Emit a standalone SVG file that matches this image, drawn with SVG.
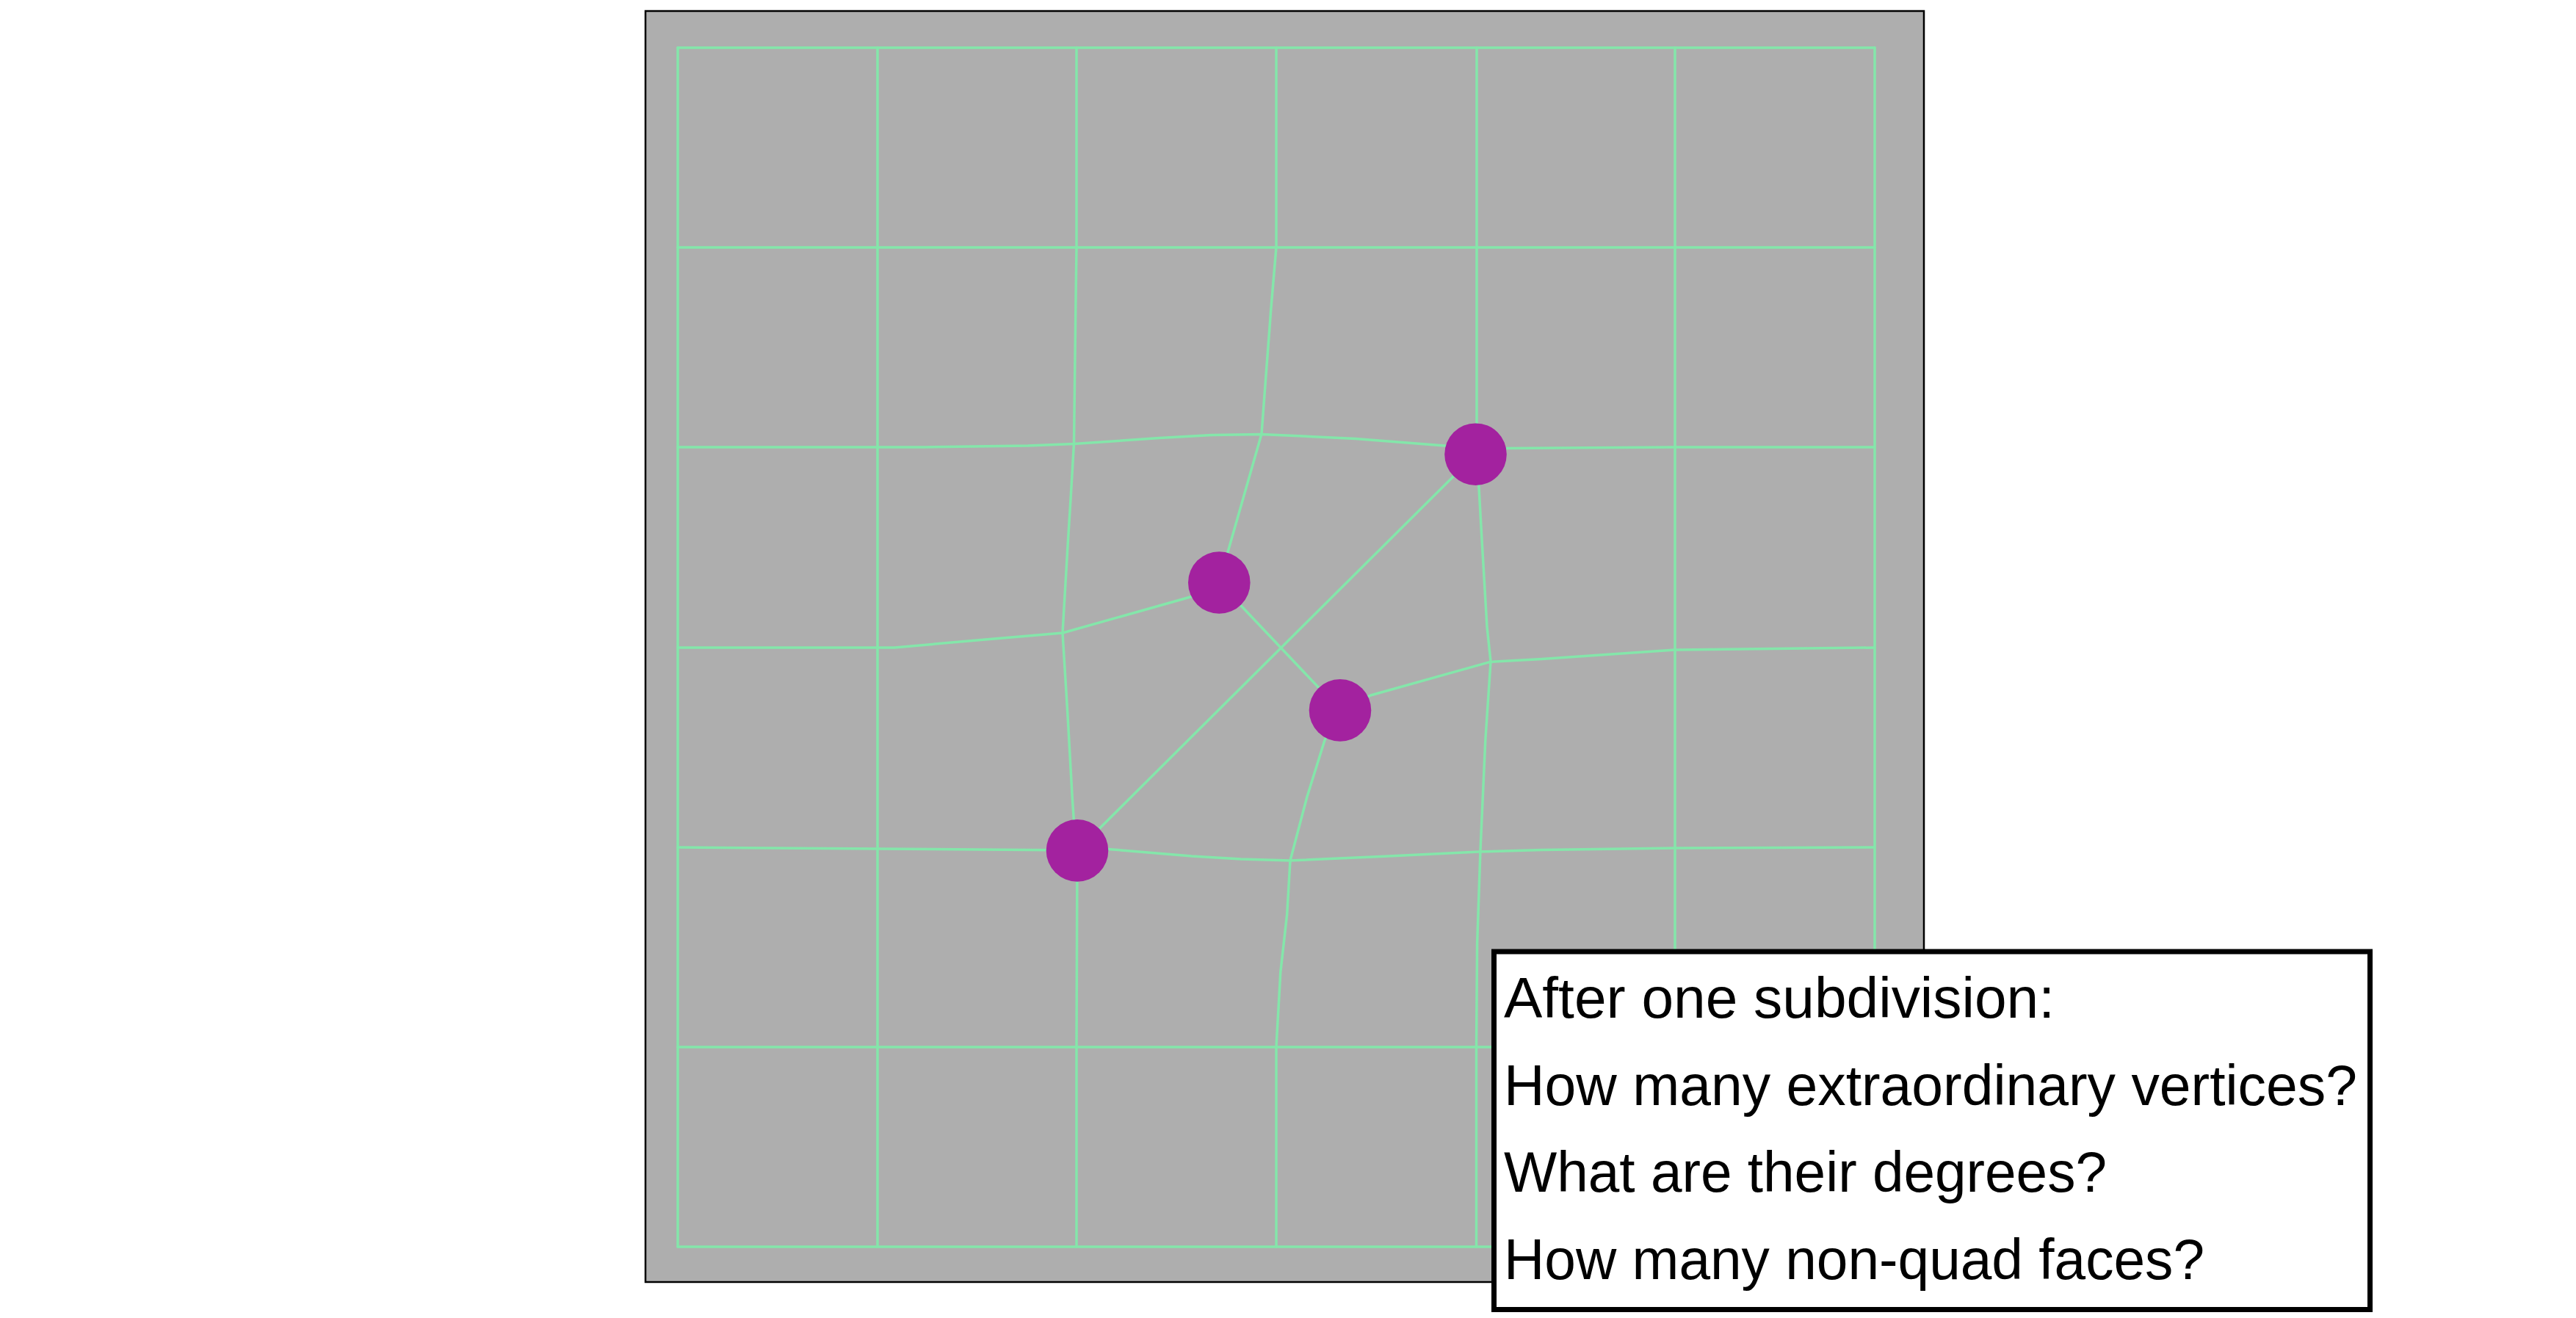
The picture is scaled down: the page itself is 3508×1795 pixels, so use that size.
<svg xmlns="http://www.w3.org/2000/svg" width="3508" height="1795" viewBox="0 0 3508 1795">
<style>
.bg{fill:#ffffff}
.panel{fill:#aeaeae;stroke:#000000;stroke-width:2.5}
.g{fill:none;stroke:#84e6aa;stroke-width:3.5;stroke-linejoin:round;stroke-linecap:round}
.v{fill:#a3229f}
.box{fill:#ffffff;stroke:#000000;stroke-width:7}
.t{font-family:"Liberation Sans",Arial,sans-serif;font-size:78px;fill:#000000}
</style>
<rect class="bg" x="0" y="0" width="3508" height="1795"/>
<rect id="panel" class="panel" x="879" y="15" width="1741" height="1731"/>
<g id="connectors">
  <!-- straight grid lines -->
  <line class="g" x1="923" y1="65" x2="2553" y2="65"/>
  <line class="g" x1="923" y1="337" x2="2553" y2="337"/>
  <line class="g" x1="923" y1="1426" x2="2553" y2="1426"/>
  <line class="g" x1="923" y1="1698" x2="2553" y2="1698"/>
  <line class="g" x1="923" y1="65" x2="923" y2="1698"/>
  <line class="g" x1="1195" y1="65" x2="1195" y2="1698"/>
  <line class="g" x1="2281" y1="65" x2="2281" y2="1698"/>
  <line class="g" x1="2553" y1="65" x2="2553" y2="1698"/>
  <!-- deformed vertical lines -->
  <polyline class="g" points="1466,65 1466,337 1464.7,430 1462.5,604 1458,680 1454.5,735 1447,862 1453.6,968 1460.3,1087 1462.5,1119 1467,1158 1466,1426 1466,1698"/>
  <polyline class="g" points="1738,65 1738,337 1731,419 1725,498 1718,591 1660,794"/>
  <polyline class="g" points="1825,967 1804,1008 1780,1085 1757,1172 1752.7,1245 1743.8,1324 1738,1426 1738,1698"/>
  <polyline class="g" points="2011,65 2011,609"/>
  <polyline class="g" points="2010,619 2013.8,660.6 2018,735 2025,853.6 2030,901 2022.8,1008 2016,1158 2011.6,1285 2010.5,1426 2010.5,1698"/>
  <!-- deformed horizontal lines -->
  <polyline class="g" points="923,609 1260,609 1400,607 1462.5,604.5 1578.6,596.6 1650,592.5 1718,591.4 1846,597.4 1967,607 2010,610"/>
  <polyline class="g" points="2010,611 2052,610.4 2281,609 2553,609"/>
  <polyline class="g" points="923,882 1218,882 1330,872 1447,862 1660,802"/>
  <polyline class="g" points="1825,967 1866.5,947 2029.5,901.4 2100,897.4 2281,885 2553,882"/>
  <polyline class="g" points="923,1154 1467,1158"/>
  <polyline class="g" points="1467,1158 1509,1156.4 1623,1166 1690,1170 1757,1172 1891,1166 2014,1160 2100,1157.6 2281,1155 2553,1154"/>
  <!-- diagonals -->
  <line class="g" x1="2009.5" y1="618.7" x2="1467" y2="1158.4"/>
  <line class="g" x1="1660.3" y1="793.5" x2="1825" y2="967.4"/>
</g>
<g id="vertex-1"><circle class="v" cx="1660.3" cy="793.5" r="42.3"/></g>
<g id="vertex-2"><circle class="v" cx="2009.5" cy="618.7" r="42.3"/></g>
<g id="vertex-3"><circle class="v" cx="1825" cy="967.4" r="42.3"/></g>
<g id="vertex-4"><circle class="v" cx="1467" cy="1158.4" r="42.3"/></g>
<g id="question-box">
  <rect class="box" x="2034.5" y="1296" width="1193" height="487.5"/>
  <text class="t" x="2048" y="1386" textLength="750" lengthAdjust="spacingAndGlyphs">After one subdivision:</text>
  <text class="t" x="2048" y="1505" textLength="1162" lengthAdjust="spacingAndGlyphs">How many extraordinary vertices?</text>
  <text class="t" x="2048" y="1623" textLength="821" lengthAdjust="spacingAndGlyphs">What are their degrees?</text>
  <text class="t" x="2048" y="1742" textLength="954" lengthAdjust="spacingAndGlyphs">How many non-quad faces?</text>
</g>
</svg>
